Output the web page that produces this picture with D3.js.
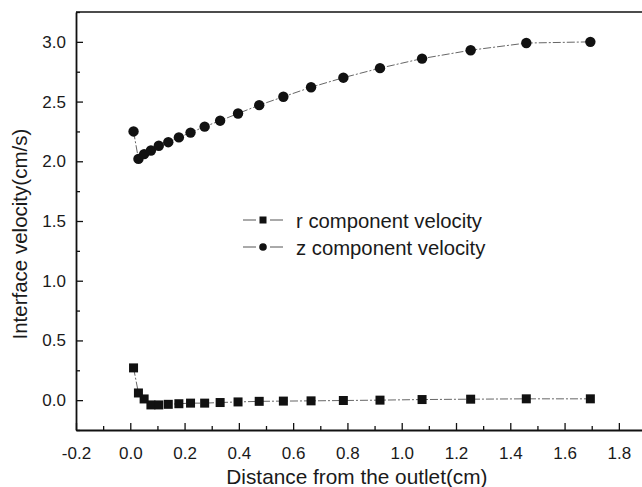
<!DOCTYPE html>
<html>
<head>
<meta charset="utf-8">
<script src="https://cdn.jsdelivr.net/npm/d3@7"></script>
<style>
  html, body { margin: 0; padding: 0; background: #fff; }
  svg { display: block; }
  text { font-family: "Liberation Sans", Arial, sans-serif; fill: #1a1a1a; }
</style>
</head>
<body>
<svg id="chart" width="642" height="487"></svg>
<script>
// Distance from the outlet (cm), shared by both series
const distance = [0.012, 0.030, 0.051, 0.076, 0.105, 0.140, 0.179, 0.222, 0.274, 0.331,
                  0.397, 0.475, 0.564, 0.666, 0.785, 0.920, 1.075, 1.254, 1.459, 1.695];
// r component of the interface velocity (cm/s)
const rVelocity = [0.27, 0.06, 0.01, -0.04, -0.04, -0.035, -0.03, -0.025, -0.025, -0.02,
                   -0.015, -0.01, -0.008, -0.006, -0.003, 0.0, 0.005, 0.008, 0.011, 0.011];
// z component of the interface velocity (cm/s)
const zVelocity = [2.25, 2.02, 2.06, 2.09, 2.13, 2.16, 2.20, 2.24, 2.29, 2.34,
                   2.40, 2.47, 2.54, 2.62, 2.70, 2.78, 2.86, 2.93, 2.99, 3.00];

const seriesNames = ["r component velocity", "z component velocity"];
const xTicks = [-0.2, 0.0, 0.2, 0.4, 0.6, 0.8, 1.0, 1.2, 1.4, 1.6, 1.8];
const xMinorTicks = [-0.1, 0.1, 0.3, 0.5, 0.7, 0.9, 1.1, 1.3, 1.5, 1.7];
const yTicks = [0.0, 0.5, 1.0, 1.5, 2.0, 2.5, 3.0];
const yMinorTicks = [-0.25, 0.25, 0.75, 1.25, 1.75, 2.25, 2.75, 3.25];
const xTitle = "Distance from the outlet(cm)";
const yTitle = "Interface velocity(cm/s)";

const svg = d3.select("#chart");
const margin = { left: 76, top: 12 };
const plotW = 570, plotH = 418;

const x = d3.scaleLinear().domain([-0.2, 1.9]).range([margin.left, margin.left + plotW]);
const y = d3.scaleLinear().domain([-0.25, 3.25]).range([margin.top + plotH, margin.top]);

// one decimal, plain hyphen for negatives
const fmt = v => d3.format(".1f")(v).replace("\u2212", "-");

// Bottom axis: major + minor ticks pointing inward
const xAxisG = svg.append("g").attr("transform", `translate(0,${y(-0.25)})`);
xAxisG.call(d3.axisBottom(x).tickValues(xTicks).tickFormat(fmt)
  .tickSizeInner(-7).tickSizeOuter(0).tickPadding(17));
svg.append("g").attr("transform", `translate(0,${y(-0.25)})`)
  .call(d3.axisBottom(x).tickValues(xMinorTicks).tickFormat("")
  .tickSizeInner(-4).tickSizeOuter(0))
  .call(g => g.select(".domain").remove());

// Left axis
const yAxisG = svg.append("g").attr("transform", `translate(${x(-0.2)},0)`);
yAxisG.call(d3.axisLeft(y).tickValues(yTicks).tickFormat(fmt)
  .tickSizeInner(-7).tickSizeOuter(0).tickPadding(10));
svg.append("g").attr("transform", `translate(${x(-0.2)},0)`)
  .call(d3.axisLeft(y).tickValues(yMinorTicks).tickFormat("")
  .tickSizeInner(-4).tickSizeOuter(0))
  .call(g => g.select(".domain").remove());

svg.selectAll(".domain").attr("stroke", "#111").attr("stroke-width", 1.8);
svg.selectAll(".tick line").attr("stroke", "#111").attr("stroke-width", 1.3);
svg.selectAll(".tick text")
  .style("font-size", "17px")
  .style("font-family", "Liberation Sans, Arial, sans-serif")
  .attr("fill", "#1a1a1a");

// Top frame line
svg.append("line")
  .attr("x1", x(-0.2)).attr("x2", x(1.9))
  .attr("y1", y(3.25)).attr("y2", y(3.25))
  .attr("stroke", "#111").attr("stroke-width", 1.6);

// Axis titles
svg.append("text")
  .attr("x", x(0.835)).attr("y", 484)
  .attr("text-anchor", "middle")
  .style("font-size", "20.8px")
  .text(xTitle);

svg.append("text")
  .attr("transform", `translate(27,${y(1.39)}) rotate(-90)`)
  .attr("text-anchor", "middle")
  .style("font-size", "20.5px")
  .text(yTitle);

// Connecting lines
const pts = (vals) => distance.map((d, i) => [d, vals[i]]);
const line = d3.line().x(d => x(d[0])).y(d => y(d[1]));

[rVelocity, zVelocity].forEach(vals => {
  svg.append("path")
    .attr("d", line(pts(vals)))
    .attr("fill", "none")
    .attr("stroke", "#666")
    .attr("stroke-width", 1)
    .attr("stroke-dasharray", "8,2,2,2");
});

// Markers
svg.append("g").selectAll("rect")
  .data(pts(rVelocity))
  .join("rect")
  .attr("x", d => x(d[0]) - 4.5)
  .attr("y", d => y(d[1]) - 4.5)
  .attr("width", 9).attr("height", 9)
  .attr("fill", "#111");

svg.append("g").selectAll("circle")
  .data(pts(zVelocity))
  .join("circle")
  .attr("cx", d => x(d[0]))
  .attr("cy", d => y(d[1]))
  .attr("r", 5.2)
  .attr("fill", "#111");

// Legend
const legend = svg.append("g");
const legendRows = [
  { name: seriesNames[0], shape: "square", cy: 220 },
  { name: seriesNames[1], shape: "circle", cy: 247 }
];
legendRows.forEach(row => {
  const g = legend.append("g");
  g.append("line").attr("x1", 243).attr("x2", 256).attr("y1", row.cy).attr("y2", row.cy)
    .attr("stroke", "#555").attr("stroke-width", 1);
  g.append("line").attr("x1", 270).attr("x2", 283).attr("y1", row.cy).attr("y2", row.cy)
    .attr("stroke", "#555").attr("stroke-width", 1);
  if (row.shape === "square") {
    g.append("rect").attr("x", 263 - 3.5).attr("y", row.cy - 3.5)
      .attr("width", 7).attr("height", 7).attr("fill", "#111");
  } else {
    g.append("circle").attr("cx", 263).attr("cy", row.cy).attr("r", 3.8).attr("fill", "#111");
  }
  g.append("text").attr("x", 296).attr("y", row.cy + 7.5)
    .style("font-size", "20.3px")
    .text(row.name);
});
</script>
</body>
</html>
